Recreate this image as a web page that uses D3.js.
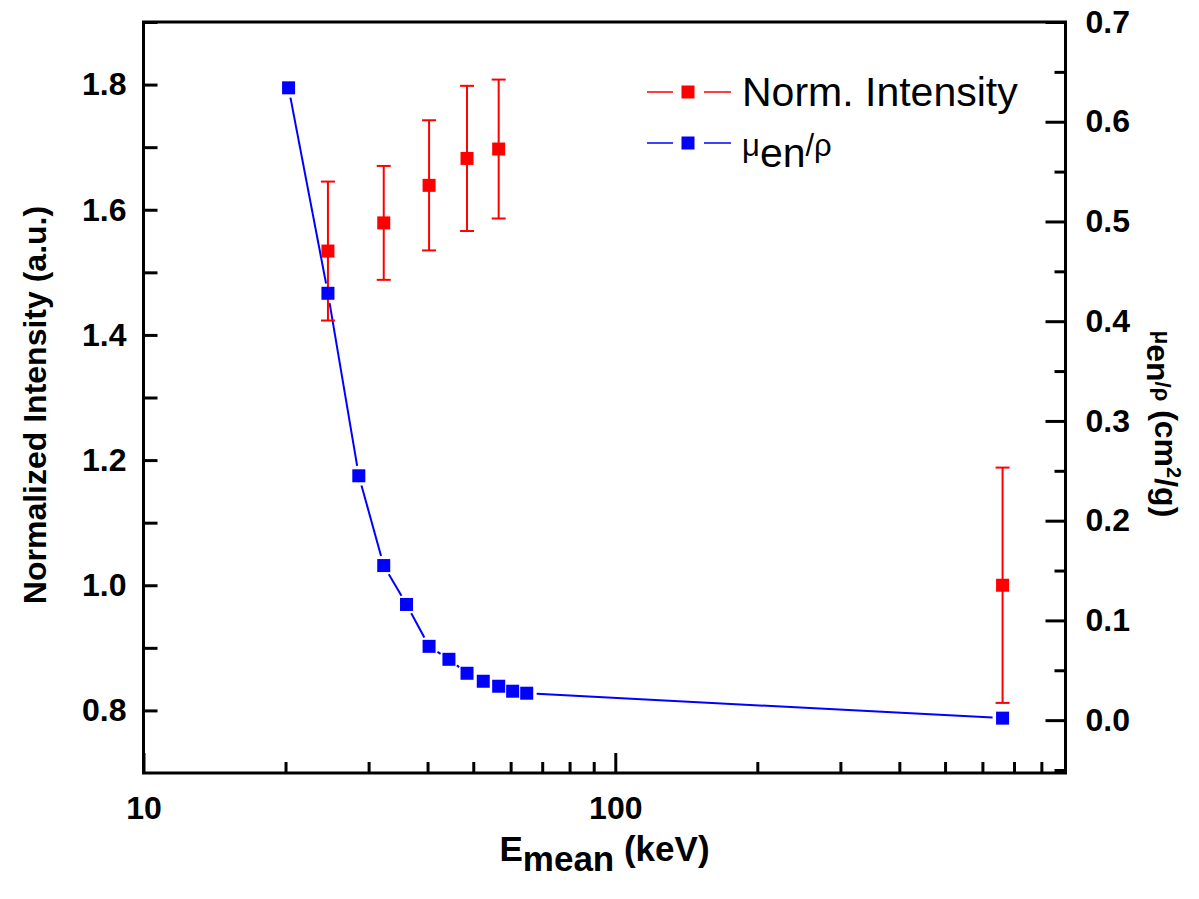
<!DOCTYPE html>
<html>
<head>
<meta charset="utf-8">
<script src="https://cdn.jsdelivr.net/npm/d3@7"></script>
<style>
  body { margin: 0; background: #fff; }
  text { font-family: "Liberation Sans", Arial, sans-serif; }
</style>
</head>
<body>
<script>
// data
var energy = [20.3, 24.6, 28.6, 32.3, 36.1, 40.3, 44.4, 48.5, 52.5, 56.6, 60.6, 64.9, 662];
var muEn = [0.634, 0.428, 0.245, 0.155, 0.116, 0.074, 0.061, 0.047, 0.039, 0.034, 0.029, 0.027, 0.002];

var intensityE = [24.6, 32.3, 40.3, 48.5, 56.6, 662];
var intensity = [1.534, 1.579, 1.639, 1.682, 1.697, 1.0];
var intensityErr = [0.111, 0.091, 0.104, 0.116, 0.111, 0.188];

var xMajor = [10, 100];
var xMinor = [20, 30, 40, 50, 60, 70, 80, 90, 200, 300, 400, 500, 600, 700, 800];
var yLeftMajor = [0.8, 1.0, 1.2, 1.4, 1.6, 1.8];
var yLeftMinor = [0.9, 1.1, 1.3, 1.5, 1.7, 1.9];
var yRightMajor = [0.0, 0.1, 0.2, 0.3, 0.4, 0.5, 0.6, 0.7];
var yRightMinor = [-0.05, 0.05, 0.15, 0.25, 0.35, 0.45, 0.55, 0.65];

// plot frame (window.top is taken, so prefixed names)
var W = 1199, H = 899;
var pLeft = 143.5, pRight = 1065.5, pTop = 22, pBottom = 773;

var x = d3.scaleLog().domain([10, 900]).range([pLeft, pRight]);
var yL = d3.scaleLinear().domain([0.7, 1.9]).range([pBottom, pTop]);
var yR = d3.scaleLinear().domain([-0.053, 0.7]).range([pBottom, pTop]);

var svg = d3.select("body").append("svg")
    .attr("width", W)
    .attr("height", H);

svg.append("rect").attr("width", W).attr("height", H).attr("fill", "#fff");

function styleAxis(g) {
  g.select(".domain").remove();
  g.selectAll(".tick line").attr("stroke", "#000").attr("stroke-width", 3);
  g.selectAll(".tick text")
      .attr("fill", "#000")
      .style("font-size", "32px")
      .style("font-weight", "bold");
}

// bottom axis
svg.append("g")
    .attr("transform", "translate(0," + pBottom + ")")
    .call(d3.axisBottom(x).tickValues(xMajor).tickSize(-20).tickPadding(23)
      .tickFormat(d3.format("d")))
    .call(styleAxis);
svg.append("g")
    .attr("transform", "translate(0," + pBottom + ")")
    .call(d3.axisBottom(x).tickValues(xMinor).tickSize(-11).tickFormat(""))
    .call(styleAxis);

// left axis
svg.append("g")
    .attr("transform", "translate(" + pLeft + ",0)")
    .call(d3.axisLeft(yL).tickValues(yLeftMajor).tickSize(-14).tickPadding(17)
      .tickFormat(d3.format(".1f")))
    .call(styleAxis);
svg.append("g")
    .attr("transform", "translate(" + pLeft + ",0)")
    .call(d3.axisLeft(yL).tickValues(yLeftMinor).tickSize(-14).tickFormat(""))
    .call(styleAxis);

// right axis
svg.append("g")
    .attr("transform", "translate(" + pRight + ",0)")
    .call(d3.axisRight(yR).tickValues(yRightMajor).tickSize(-20).tickPadding(20)
      .tickFormat(d3.format(".1f")))
    .call(styleAxis);
svg.append("g")
    .attr("transform", "translate(" + pRight + ",0)")
    .call(d3.axisRight(yR).tickValues(yRightMinor).tickSize(-11).tickFormat(""))
    .call(styleAxis);

// frame
svg.append("rect")
    .attr("x", pLeft).attr("y", pTop)
    .attr("width", pRight - pLeft).attr("height", pBottom - pTop)
    .attr("fill", "none").attr("stroke", "#000").attr("stroke-width", 3);

// blue line, with gaps around the markers
var pts = energy.map(function(e, i) { return [x(e), yR(muEn[i])]; });
var gap = 10;
for (var i = 0; i < pts.length - 1; i++) {
  var a = pts[i], b = pts[i + 1];
  var dx = b[0] - a[0], dy = b[1] - a[1];
  var len = Math.sqrt(dx * dx + dy * dy);
  if (len <= 2 * gap + 1) continue;
  var ux = dx / len, uy = dy / len;
  svg.append("line")
      .attr("x1", a[0] + ux * gap).attr("y1", a[1] + uy * gap)
      .attr("x2", b[0] - ux * gap).attr("y2", b[1] - uy * gap)
      .attr("stroke", "#0000ff").attr("stroke-width", 2);
}

// red error bars
var capW = 7;
intensityE.forEach(function(e, i) {
  var cx = x(e);
  var y1 = yL(intensity[i] + intensityErr[i]), y2 = yL(intensity[i] - intensityErr[i]);
  var g = svg.append("g").attr("stroke", "#ff0000").attr("stroke-width", 2);
  g.append("line").attr("x1", cx).attr("x2", cx).attr("y1", y1).attr("y2", y2);
  g.append("line").attr("x1", cx - capW).attr("x2", cx + capW).attr("y1", y1).attr("y2", y1);
  g.append("line").attr("x1", cx - capW).attr("x2", cx + capW).attr("y1", y2).attr("y2", y2);
});

var ms = 13;
// blue markers
svg.selectAll(".mu")
  .data(energy)
  .enter().append("rect")
    .attr("class", "mu")
    .attr("x", function(d) { return x(d) - ms / 2; })
    .attr("y", function(d, i) { return yR(muEn[i]) - ms / 2; })
    .attr("width", ms).attr("height", ms)
    .attr("fill", "#0000ff");

// red markers
svg.selectAll(".ni")
  .data(intensityE)
  .enter().append("rect")
    .attr("class", "ni")
    .attr("x", function(d) { return x(d) - ms / 2; })
    .attr("y", function(d, i) { return yL(intensity[i]) - ms / 2; })
    .attr("width", ms).attr("height", ms)
    .attr("fill", "#ff0000");

// legend
var legend = [
  {color: "#ff0000", y: 92},
  {color: "#0000ff", y: 143}
];
legend.forEach(function(d) {
  svg.append("line").attr("x1", 647).attr("x2", 673).attr("y1", d.y).attr("y2", d.y)
      .attr("stroke", d.color).attr("stroke-width", 1.5);
  svg.append("line").attr("x1", 704).attr("x2", 731).attr("y1", d.y).attr("y2", d.y)
      .attr("stroke", d.color).attr("stroke-width", 1.5);
  svg.append("rect").attr("x", 688 - ms / 2).attr("y", d.y - ms / 2)
      .attr("width", ms).attr("height", ms).attr("fill", d.color);
});
svg.append("text").attr("x", 742).attr("y", 106)
    .style("font-size", "41px").text("Norm. Intensity");
var t2 = svg.append("text").attr("x", 742).attr("y", 156);
t2.append("tspan").style("font-size", "31px").text("μ");
t2.append("tspan").style("font-size", "41px").attr("dy", 11).text("en");
t2.append("tspan").style("font-size", "31px").attr("dy", -11).text("/ρ");

// axis titles
var xt = svg.append("text")
    .attr("x", (pLeft + pRight) / 2).attr("y", 861)
    .attr("text-anchor", "middle")
    .style("font-size", "35px").style("font-weight", "bold");
xt.append("tspan").text("E");
xt.append("tspan").attr("dy", 10).text("mean");
xt.append("tspan").attr("dy", -10).text(" (keV)");

svg.append("text")
    .attr("transform", "translate(46,405) rotate(-90)")
    .attr("text-anchor", "middle")
    .style("font-size", "32px").style("font-weight", "bold")
    .text("Normalized Intensity (a.u.)");

var yt = svg.append("text")
    .attr("transform", "translate(1155,424) rotate(90)")
    .attr("text-anchor", "middle")
    .style("font-weight", "bold");
yt.append("tspan").style("font-size", "22px").text("μ");
yt.append("tspan").style("font-size", "32px").attr("dy", 8).text("en");
yt.append("tspan").style("font-size", "22px").attr("dy", -8).text("/ρ");
yt.append("tspan").style("font-size", "32px").text(" (cm");
yt.append("tspan").style("font-size", "20px").attr("dy", -12).text("2");
yt.append("tspan").style("font-size", "32px").attr("dy", 12).text("/g)");
</script>
</body>
</html>
